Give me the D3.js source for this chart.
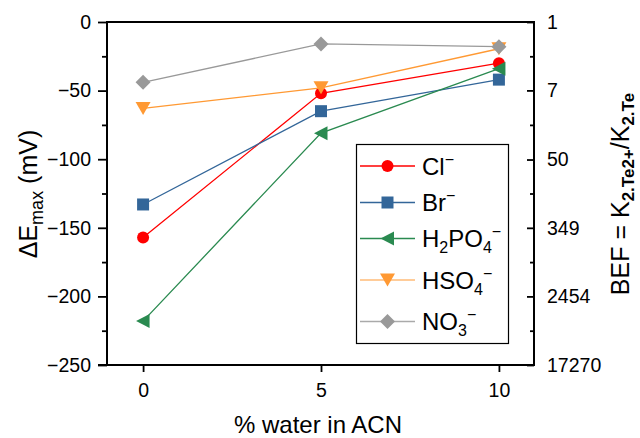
<!DOCTYPE html>
<html><head><meta charset="utf-8">
<script src="https://cdn.jsdelivr.net/npm/d3@7/dist/d3.min.js"></script>
<style>
html,body{margin:0;padding:0;background:#fff;}
svg{display:block;font-family:"Liberation Sans",Arial,sans-serif;}
</style></head>
<body>
<svg id="chart" width="640" height="438"></svg>
<script>
// ---- data ----
const waterPct = [0, 5, 10];
const xTicks = [0, 5, 10];
const yTicks = [0, -50, -100, -150, -200, -250];
const yMinorTicks = [-25, -75, -125, -175, -225];
const befTicks = [1, 7, 50, 349, 2454, 17270];
const seriesNames = ["Cl", "Br", "H2PO4", "HSO4", "NO3"];
const clVals = [-157, -52, -30];
const brVals = [-133, -65, -42];
const h2po4Vals = [-218, -81, -34];
const hso4Vals = [-63, -48, -19.5];
const no3Vals = [-44, -16, -18];

const seriesColors = ["#ff0000", "#336699", "#2a8a50", "#ff9933", "#999999"];
const legendLineColors = ["#ff0000", "#336699", "#2a8a50", "#ffbb77", "#aaaaaa"];
const markerPaths = {
  circle: "M6,0A6,6 0 1,1 -6,0A6,6 0 1,1 6,0Z",
  square: "M-6,-6H6V6H-6Z",
  triLeft: "M-7,0L6.5,-7L6.5,7Z",
  triDown: "M-7.5,-6.5L7.5,-6.5L0,6.5Z",
  diamond: "M0,-7.5L7.5,0L0,7.5L-7.5,0Z"
};
const seriesMarkers = ["circle", "square", "triLeft", "triDown", "diamond"];
const seriesVals = [clVals, brVals, h2po4Vals, hso4Vals, no3Vals];

// ---- layout ----
const L = 107, R = 534, T = 22, B = 365;
const svg = d3.select("#chart");
const x = d3.scaleLinear().domain([-1, 11]).range([L + 0.5, R + 0.5]);
const y = d3.scaleLinear().domain([0, -250]).range([T, B]);
const yR = d3.scaleLog().domain([1, 17270]).range([T, B]);

const tickFont = 19.5;

// frame top line
svg.append("line").attr("x1", L).attr("x2", R).attr("y1", T).attr("y2", T)
  .attr("stroke", "#000").attr("stroke-width", 2);

// left axis
const gL = svg.append("g").attr("transform", `translate(${L},0)`);
gL.call(d3.axisLeft(y).tickValues(yTicks).tickSize(9).tickPadding(7).tickFormat(d3.format("d")));
gL.append("g").call(d3.axisLeft(y).tickValues(yMinorTicks).tickSize(5).tickFormat(""));
gL.selectAll(".domain").remove();
gL.append("line").attr("y1", T - 1).attr("y2", B + 1).attr("stroke", "#000").attr("stroke-width", 2);

// right axis (BEF, log scale) ticks inward
const gR = svg.append("g").attr("transform", `translate(${R},0)`);
gR.call(d3.axisLeft(yR).tickValues(befTicks).tickSize(7).tickFormat(""));
gR.append("g").call(d3.axisLeft(y).tickValues(yMinorTicks).tickSize(4).tickFormat(""));
gR.selectAll(".domain").remove();
gR.append("line").attr("y1", T - 1).attr("y2", B + 1).attr("stroke", "#000").attr("stroke-width", 2);
gR.selectAll(".befLabel").data(befTicks).enter().append("text")
  .attr("class", "befLabel")
  .attr("x", 13).attr("y", d => yR(d)).attr("dy", "0.35em")
  .attr("text-anchor", "start")
  .attr("font-size", tickFont).attr("fill", "#000").text(d => d);

// bottom axis
const gB = svg.append("g").attr("transform", `translate(0,${B})`);
gB.call(d3.axisBottom(x).tickValues(xTicks).tickSize(7).tickPadding(11).tickFormat(d3.format("d")));
gB.selectAll(".domain").remove();
gB.append("line").attr("x1", L - 9).attr("x2", R).attr("stroke", "#000").attr("stroke-width", 2);

[gL, gR, gB].forEach(g => {
  g.selectAll(".tick line").attr("stroke", "#000").attr("stroke-width", 1.8);
  g.selectAll("text").attr("font-size", tickFont).attr("font-family", "Liberation Sans, Arial, sans-serif").attr("fill", "#000");
});

// series
const line = d3.line().x((d, i) => x(waterPct[i])).y(d => y(d));
seriesVals.forEach((vals, s) => {
  const g = svg.append("g");
  g.append("path").attr("d", line(vals)).attr("fill", "none")
    .attr("stroke", seriesColors[s]).attr("stroke-width", 1.3);
  g.selectAll("path.m").data(vals).enter().append("path").attr("class", "m")
    .attr("transform", (d, i) => `translate(${x(waterPct[i])},${y(d)})`)
    .attr("d", markerPaths[seriesMarkers[s]]).attr("fill", seriesColors[s]);
});

// legend
const lg = svg.append("g");
lg.append("rect").attr("x", 356.5).attr("y", 144.5).attr("width", 152).attr("height", 199)
  .attr("fill", "#fff").attr("stroke", "#000").attr("stroke-width", 1.2);
const legendY = [166, 202.5, 238.5, 280, 321.5];
const legendLabels = [
  [["Cl", 0], ["−", -1]],
  [["Br", 0], ["−", -1]],
  [["H", 0], ["2", 1], ["PO", 0], ["4", 1], ["−", -1]],
  [["HSO", 0], ["4", 1], ["−", -1]],
  [["NO", 0], ["3", 1], ["−", -1]]
];
seriesNames.forEach((name, s) => {
  const yy = legendY[s];
  lg.append("line").attr("x1", 360).attr("x2", 415).attr("y1", yy).attr("y2", yy)
    .attr("stroke", legendLineColors[s]).attr("stroke-width", 1.3);
  lg.append("path").attr("transform", `translate(387.5,${yy})`)
    .attr("d", markerPaths[seriesMarkers[s]]).attr("fill", seriesColors[s]);
  const t = lg.append("text").attr("x", 422).attr("y", yy + 8.5).attr("font-size", 24).attr("fill", "#000");
  let cur = 0;
  legendLabels[s].forEach(([txt, kind]) => {
    let target = kind === 1 ? 6 : kind === -1 ? -10 : 0;
    const ts = t.append("tspan").attr("dy", target - cur).text(txt);
    if (kind !== 0) ts.attr("font-size", 16);
    cur = target;
  });
});

// axis titles
svg.append("text").attr("x", 318).attr("y", 433).attr("text-anchor", "middle")
  .attr("font-size", 24).attr("fill", "#000").text("% water in ACN");

const lt = svg.append("text").attr("transform", "translate(37,194) rotate(-90)")
  .attr("text-anchor", "middle").attr("font-size", 25).attr("fill", "#000");
lt.append("tspan").text("ΔE");
lt.append("tspan").attr("font-size", 18).attr("dy", 6).text("max");
lt.append("tspan").attr("dy", -6).text(" (mV)");

const rt = svg.append("text").attr("transform", "translate(629,194) rotate(-90)")
  .attr("text-anchor", "middle").attr("font-size", 25).attr("fill", "#000");
rt.append("tspan").text("BEF = K");
rt.append("tspan").attr("font-size", 17).attr("font-weight", "bold").attr("dy", 5).text("2.Te2+");
rt.append("tspan").attr("dy", -5).text("/K");
rt.append("tspan").attr("font-size", 17).attr("font-weight", "bold").attr("dy", 5).text("2.Te");
</script>
</body></html>
